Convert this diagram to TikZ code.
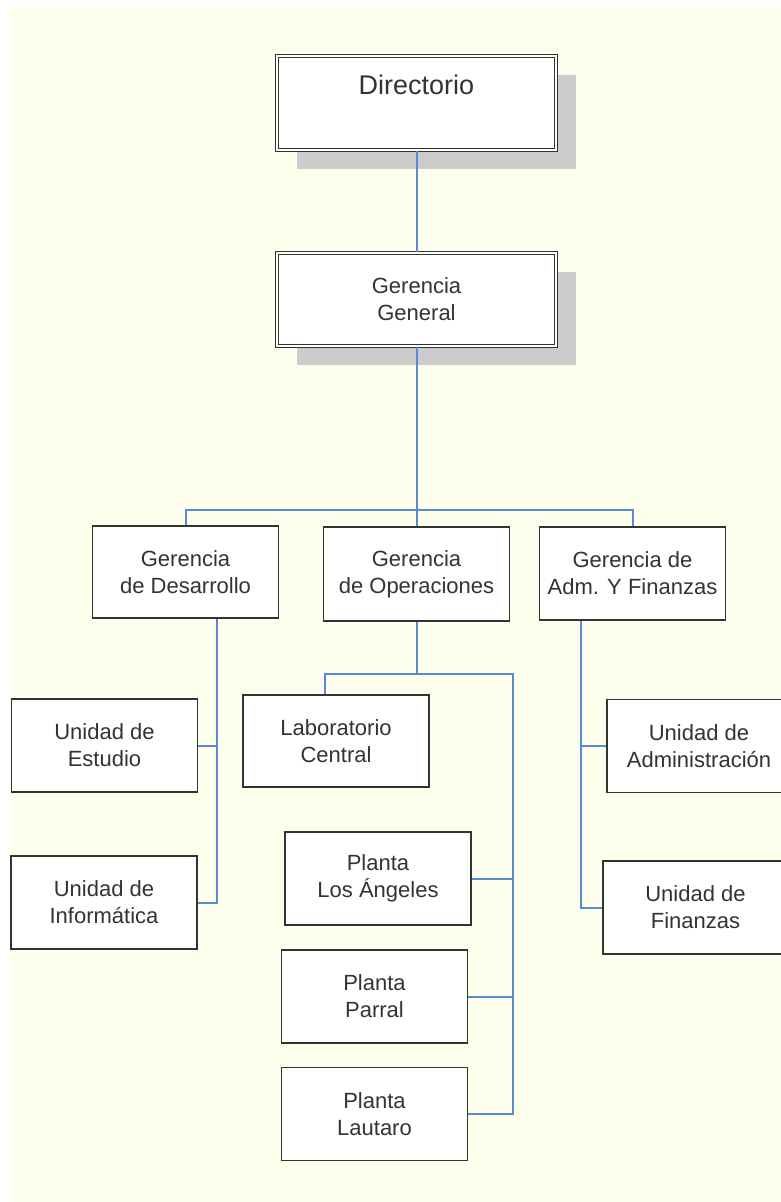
\documentclass[tikz,border=0pt]{standalone}
\usepackage{fontspec}
\setmainfont{Liberation Sans}
\usetikzlibrary{shadows}
\definecolor{bgcream}{RGB}{253,254,236}
\definecolor{linkblue}{RGB}{90,138,210}
\definecolor{boxgray}{RGB}{51,51,51}
\definecolor{shadegray}{RGB}{204,204,204}

\begin{document}
\begin{tikzpicture}[x=1pt,y=-1pt]
\tikzset{
    unit/.style={rectangle, draw=boxgray, line width=1.8pt, fill=white, text=boxgray, align=center,
        minimum width=186pt, minimum height=93pt, inner sep=0pt, font=\fontsize{22}{27}\selectfont},
    head/.style={unit, double=white, double distance=2.2pt, line width=1.2pt, minimum width=279pt,
        drop shadow={shadow xshift=20pt, shadow yshift=-19pt, fill=shadegray, opacity=1}},
    link/.style={draw=linkblue, line width=2pt}
}
  \useasboundingbox (0,0) rectangle (781,1202);
  \fill[white] (0,0) rectangle (781,1202);
  \fill[bgcream] (10,7) rectangle (781,1202);
  \clip (0,0) rectangle (781,1202);

  \node[head, minimum height=94pt, font=\fontsize{27}{36}\selectfont] (dir) at (416.5,103) {Directorio\\\mbox{}};
  \node[head] (gg) at (416.5,299.5) {Gerencia\\General};

  \node[unit, minimum height=92pt] (gdes) at (185.5,572) {Gerencia\\de Desarrollo};
  \node[unit, minimum height=94pt] (gope) at (416.5,574) {Gerencia\\de Operaciones};
  \node[unit] (gadm) at (632.5,573.5) {Gerencia de\\Adm. Y Finanzas};

  \node[unit] (uest) at (104.5,745.5) {Unidad de\\Estudio};
  \node[unit] (uinf) at (104,902.5) {Unidad de\\Informática};

  \node[unit, minimum height=92pt] (lab) at (336,741) {Laboratorio\\Central};
  \node[unit] (pla) at (378,878.5) {Planta\\Los Ángeles};
  \node[unit] (ppa) at (374.5,996.5) {Planta\\Parral};
  \node[unit] (plau) at (374.5,1114) {Planta\\Lautaro};

  \node[unit, minimum width=184pt] (uadm) at (699,746) {Unidad de\\Administración};
  \node[unit, minimum width=185pt] (ufin) at (695.5,907.5) {Unidad de\\Finanzas};

  \coordinate (bus) at (416.5,510);
  \coordinate (desx) at (217,0);
  \coordinate (opl) at (325,674);
  \coordinate (opr) at (513,674);
  \coordinate (admx) at (581,0);

  \draw[link] (dir) -- (gg);
  \draw[link] (gg) -- (gope);
  \draw[link] (gdes.north) |- (bus) -| (gadm.north);
  %\draw[link] (gdes.south) -- (uest.east);
  \draw[link] (gdes.south -| desx) |- (uinf.east);
  \draw[link] (uest.east) -- (uest.east -| desx);
  \draw[link] (gope.south) -- (gope.south |- opl);
  \draw[link] (lab.north -| opl) -- (opl) -- (opr) |- (plau.east);
  \draw[link] (pla.east) -- (pla.east -| opr);
  \draw[link] (ppa.east) -- (ppa.east -| opr);
  \draw[link] (gadm.south -| admx) |- (ufin.west);
  \draw[link] (uadm.west) -- (uadm.west -| admx);
\end{tikzpicture}
\end{document}
